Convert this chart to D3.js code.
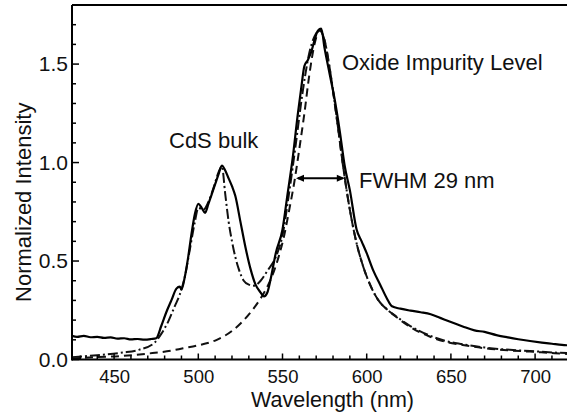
<!DOCTYPE html>
<html>
<head>
<meta charset="utf-8">
<script src="https://cdn.jsdelivr.net/npm/d3@7/dist/d3.min.js"></script>
<style>
  html, body { margin: 0; padding: 0; background: #fff; }
  svg { display: block; }
  text { font-family: "Liberation Sans", Arial, Helvetica, sans-serif; fill: #111; }
</style>
</head>
<body>
<svg id="chart" width="567" height="414"></svg>
<script>
// Photoluminescence spectrum: measured curve, total fit, and oxide-level component
const measuredNm = [425,428,432,436,440,444,448,452,456,460,464,468,472,475,478,481,484,487,489,490,492,494,496,498,500,502,504,506,508,510,512,514,516,518,520,522,525,528,531,534,537,539,541,543,546,550,553,556,559,561,563,565,567,569,571,573,575,578,581,584,587,590,594,597,600,604,608,612,615,620,626,632,638,644,650,657,664,670,677,684,690,697,704,710,716,720];
const measuredVal = [0.12,0.115,0.12,0.113,0.115,0.11,0.112,0.106,0.108,0.102,0.104,0.101,0.104,0.108,0.17,0.24,0.30,0.36,0.37,0.355,0.42,0.52,0.64,0.74,0.79,0.77,0.745,0.79,0.84,0.89,0.94,0.985,0.96,0.92,0.88,0.83,0.70,0.57,0.46,0.38,0.34,0.32,0.34,0.41,0.54,0.66,0.84,1.02,1.24,1.37,1.49,1.52,1.56,1.62,1.67,1.68,1.58,1.45,1.32,1.16,0.98,0.86,0.66,0.60,0.54,0.45,0.38,0.31,0.27,0.258,0.248,0.24,0.23,0.21,0.19,0.168,0.148,0.14,0.124,0.112,0.103,0.094,0.086,0.08,0.074,0.072];

const totalFitNm = [425,440,455,465,474,478,482,486,489,492,495,498,500,503,506,509,512,514,516,518,520,522,524,527,530,533,537,541,546,550,554,558,562,566,569,572,575,578,582,586,590,594,598,602,607,612,617,625,637,647,657,670,685,697,710,720];
const totalFitVal = [0.012,0.022,0.035,0.05,0.085,0.13,0.19,0.27,0.33,0.42,0.56,0.70,0.77,0.76,0.80,0.87,0.95,0.98,0.84,0.70,0.60,0.52,0.46,0.40,0.38,0.375,0.40,0.45,0.52,0.63,0.85,1.10,1.36,1.56,1.64,1.67,1.62,1.48,1.24,0.98,0.76,0.59,0.47,0.38,0.30,0.255,0.222,0.175,0.123,0.094,0.078,0.061,0.049,0.043,0.036,0.032];

const oxideNm = [425,440,455,470,484,491,500,511,520,527,532,537,541,545,548,551,554,557,560,563,566,569,572,575,578,581,584,587,590,594,598,602,607,612,617,625,637,647,657,670,685,697,710,720];
const oxideVal = [0.005,0.012,0.018,0.03,0.045,0.057,0.072,0.10,0.145,0.20,0.25,0.31,0.37,0.45,0.53,0.63,0.76,0.90,1.07,1.25,1.45,1.60,1.67,1.62,1.48,1.30,1.11,0.92,0.76,0.59,0.47,0.38,0.30,0.255,0.22,0.17,0.118,0.09,0.074,0.057,0.046,0.04,0.033,0.028];

const xTicks = [450, 500, 550, 600, 650, 700];
const yTicks = [0.0, 0.5, 1.0, 1.5];

// FWHM marker (nm endpoints and the level it is drawn at)
const fwhmNm = [558, 587];
const fwhmLevel = 0.92;

const svg = d3.select("#chart");
const padLeft = 72, padTop = 5, axisY = 359.5;

const x = d3.scaleLinear().domain([425, 720]).range([padLeft, padLeft + 295 * 1.684]);
const y = d3.scaleLinear().domain([0, 1.8]).range([axisY, padTop]);

svg.append("defs").append("clipPath").attr("id", "plot")
  .append("rect").attr("x", padLeft).attr("y", padTop).attr("width", 567 - padLeft).attr("height", axisY - padTop);

const line = d3.line().x(d => x(d[0])).y(d => y(d[1])).curve(d3.curveMonotoneX);
const zip = (a, b) => a.map((v, i) => [v, b[i]]);

const g = svg.append("g").attr("clip-path", "url(#plot)");

g.append("path").datum(zip(oxideNm, oxideVal))
  .attr("d", line).attr("fill", "none").attr("stroke", "#111")
  .attr("stroke-width", 2).attr("stroke-dasharray", "8,5");

g.append("path").datum(zip(totalFitNm, totalFitVal))
  .attr("d", line).attr("fill", "none").attr("stroke", "#111")
  .attr("stroke-width", 2).attr("stroke-dasharray", "10,3,2,3");

g.append("path").datum(zip(measuredNm, measuredVal))
  .attr("d", line).attr("fill", "none").attr("stroke", "#000")
  .attr("stroke-width", 2.2).attr("stroke-linejoin", "round");

// Axes: ticks point inward
const xAxis = d3.axisBottom(x).tickValues(xTicks).tickSize(0).tickPadding(0).tickFormat(d3.format("d"));
const yAxis = d3.axisLeft(y).tickValues(yTicks).tickSize(0).tickFormat(d3.format(".1f"));

const minorX = d3.range(430, 721, 10);
svg.append("g").selectAll("line").data(minorX).join("line")
  .attr("x1", d => x(d)).attr("x2", d => x(d))
  .attr("y1", axisY).attr("y2", d => axisY - (d % 50 === 0 ? 6 : 4))
  .attr("stroke", "#000").attr("stroke-width", 1.5);

const minorY = d3.range(0, 19).map(i => i / 10);
svg.append("g").selectAll("line").data(minorY).join("line")
  .attr("x1", padLeft).attr("x2", d => padLeft + (Math.round(d * 10) % 5 === 0 ? 7 : 4))
  .attr("y1", d => y(d)).attr("y2", d => y(d))
  .attr("stroke", "#000").attr("stroke-width", 1.5);

const xg = svg.append("g").attr("transform", `translate(0,${axisY})`).call(xAxis);
xg.select(".domain").remove();
xg.selectAll("text").attr("font-size", 18.5).attr("y", 23.5).attr("dy", 0)
  .style("font-family", "'Liberation Sans', Arial, sans-serif").attr("fill", "#111");

const yg = svg.append("g").attr("transform", `translate(${padLeft},0)`).call(yAxis);
yg.select(".domain").remove();
yg.selectAll("text").attr("font-size", 21).attr("x", -4)
  .style("font-family", "'Liberation Sans', Arial, sans-serif").attr("fill", "#111");

// Frame: left spine, bottom axis, top border
svg.append("line").attr("x1", padLeft).attr("x2", padLeft).attr("y1", padTop).attr("y2", axisY + 1)
  .attr("stroke", "#000").attr("stroke-width", 2);
svg.append("line").attr("x1", padLeft).attr("x2", 567).attr("y1", axisY).attr("y2", axisY)
  .attr("stroke", "#000").attr("stroke-width", 2);
svg.append("line").attr("x1", padLeft).attr("x2", 567).attr("y1", padTop).attr("y2", padTop)
  .attr("stroke", "#000").attr("stroke-width", 2);

// Axis titles
svg.append("text").attr("x", x(550) + 50).attr("y", 407).attr("text-anchor", "middle")
  .attr("font-size", 21.5).text("Wavelength (nm)");
svg.append("text").attr("transform", `translate(31,${(padTop + axisY) / 2 + 20}) rotate(-90)`)
  .attr("text-anchor", "middle").attr("font-size", 22).text("Normalized Intensity");

// Annotations
svg.append("text").attr("x", 169).attr("y", 148).attr("font-size", 22).text("CdS bulk");
svg.append("text").attr("x", 342).attr("y", 70).attr("font-size", 22).text("Oxide Impurity Level");
svg.append("text").attr("x", 359).attr("y", 188).attr("font-size", 22).text("FWHM 29 nm");

const ay = y(fwhmLevel);
const ax0 = x(fwhmNm[0]), ax1 = x(fwhmNm[1]);
svg.append("line").attr("x1", ax0 + 2).attr("x2", ax1 - 2).attr("y1", ay).attr("y2", ay)
  .attr("stroke", "#000").attr("stroke-width", 2);
svg.append("path").attr("d", `M${ax0},${ay} l8,-3.5 l0,7 Z`).attr("fill", "#000");
svg.append("path").attr("d", `M${ax1},${ay} l-8,-3.5 l0,7 Z`).attr("fill", "#000");
</script>
</body>
</html>
